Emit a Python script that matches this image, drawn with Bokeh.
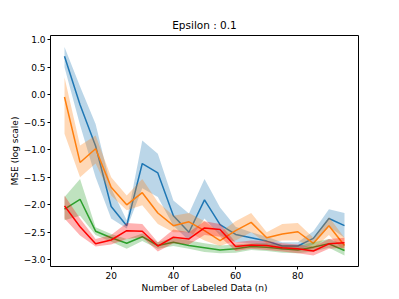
from bokeh.plotting import figure
from bokeh.models import Range1d, FixedTicker, CustomJSTickFormatter, ColumnDataSource
from bokeh.embed import file_html
from bokeh.resources import INLINE

n = [5, 10, 15, 20, 25, 30, 35, 40, 45, 50, 55, 60, 65, 70, 75, 80, 85, 90, 95]

blue_mean = [0.70, -0.18, -0.93, -2.03, -2.38, -1.25, -1.42, -2.20, -2.50, -1.91, -2.36, -2.54, -2.60, -2.66, -2.75, -2.75, -2.61, -2.25, -2.38]
blue_upper = [0.87, 0.15, -0.53, -1.70, -2.28, -0.83, -1.07, -1.92, -2.16, -1.53, -2.05, -2.40, -2.50, -2.58, -2.68, -2.68, -2.48, -2.08, -2.15]
blue_lower = [0.50, -0.55, -1.50, -2.25, -2.43, -1.70, -1.86, -2.38, -2.65, -2.25, -2.56, -2.68, -2.70, -2.74, -2.82, -2.82, -2.72, -2.40, -2.60]

orange_mean = [-0.04, -1.23, -0.98, -1.68, -2.00, -1.78, -2.15, -2.38, -2.31, -2.47, -2.65, -2.47, -2.32, -2.60, -2.53, -2.49, -2.70, -2.38, -2.74]
orange_upper = [0.32, -0.92, -0.74, -1.50, -1.83, -1.53, -1.95, -2.20, -2.15, -2.30, -2.50, -2.30, -2.15, -2.50, -2.35, -2.33, -2.60, -2.22, -2.60]
orange_lower = [-0.71, -1.50, -1.25, -1.83, -2.10, -2.01, -2.35, -2.50, -2.50, -2.65, -2.75, -2.65, -2.50, -2.70, -2.65, -2.65, -2.80, -2.55, -2.85]

green_mean = [-2.08, -1.90, -2.48, -2.60, -2.70, -2.58, -2.74, -2.68, -2.74, -2.78, -2.82, -2.80, -2.76, -2.77, -2.80, -2.82, -2.77, -2.71, -2.83]
green_upper = [-1.86, -1.53, -2.41, -2.53, -2.62, -2.52, -2.68, -2.60, -2.65, -2.70, -2.74, -2.72, -2.70, -2.70, -2.73, -2.74, -2.68, -2.62, -2.72]
green_lower = [-2.28, -2.20, -2.55, -2.67, -2.80, -2.66, -2.80, -2.75, -2.80, -2.86, -2.88, -2.87, -2.82, -2.84, -2.87, -2.88, -2.85, -2.78, -2.92]

red_mean = [-2.02, -2.40, -2.71, -2.64, -2.47, -2.48, -2.75, -2.59, -2.62, -2.42, -2.45, -2.76, -2.73, -2.74, -2.78, -2.80, -2.84, -2.71, -2.69]
red_upper = [-1.83, -2.25, -2.62, -2.55, -2.33, -2.35, -2.68, -2.45, -2.50, -2.30, -2.35, -2.68, -2.65, -2.66, -2.70, -2.72, -2.76, -2.62, -2.60]
red_lower = [-2.25, -2.56, -2.76, -2.72, -2.62, -2.59, -2.85, -2.70, -2.72, -2.55, -2.58, -2.84, -2.80, -2.82, -2.85, -2.88, -2.92, -2.80, -2.78]

y_ticks = [-3.0, -2.5, -2.0, -1.5, -1.0, -0.5, 0.0, 0.5, 1.0]
x_ticks = [20, 40, 60, 80]

FONT = "DejaVu Sans"

p = figure(width=391, height=296, output_backend="svg", toolbar_location=None,
           x_range=Range1d(0.5, 99.5), y_range=Range1d(-3.122, 1.078),
           min_border_left=50, min_border_right=33, min_border_top=35, min_border_bottom=30,
           title="Epsilon : 0.1")
p.title.align = "center"
p.title.text_font = FONT
p.title.text_font_size = "10.5px"
p.title.text_font_style = "normal"
p.title.text_color = "black"

p.grid.visible = False
p.outline_line_color = "black"
p.outline_line_width = 1
p.background_fill_color = "white"
p.border_fill_color = "white"

series = [
    (blue_mean, blue_upper, blue_lower, "#1f77b4"),
    (orange_mean, orange_upper, orange_lower, "#ff7f0e"),
    (green_mean, green_upper, green_lower, "#2ca02c"),
    (red_mean, red_upper, red_lower, "#ff0000"),
]
for mean, up, lo, col in series:
    src = ColumnDataSource(dict(x=n, y=mean, up=up, lo=lo))
    p.varea(x="x", y1="lo", y2="up", source=src, fill_color=col, fill_alpha=0.3)
    p.line(x="x", y="y", source=src, line_color=col, line_width=1.5)

for ax in (p.xaxis[0], p.yaxis[0]):
    ax.axis_line_color = None
    ax.major_tick_out = 3
    ax.major_tick_in = 0
    ax.minor_tick_out = 0
    ax.minor_tick_in = 0
    ax.major_label_text_font = FONT
    ax.major_label_text_font_size = "9px"
    ax.major_label_text_color = "black"
    ax.axis_label_text_font = FONT
    ax.axis_label_text_font_size = "9px"
    ax.axis_label_text_font_style = "normal"
    ax.axis_label_text_color = "black"
    ax.major_label_standoff = 2
    ax.axis_label_standoff = 1

p.xaxis.ticker = FixedTicker(ticks=x_ticks)
p.yaxis.ticker = FixedTicker(ticks=y_ticks)
p.yaxis.formatter = CustomJSTickFormatter(code="return tick.toFixed(1).replace('-', '\\u2212');")
p.xaxis.axis_label = "Number of Labeled Data (n)"
p.yaxis.axis_label = "MSE (log scale)"

open("out.html", "w").write(file_html(p, INLINE))
